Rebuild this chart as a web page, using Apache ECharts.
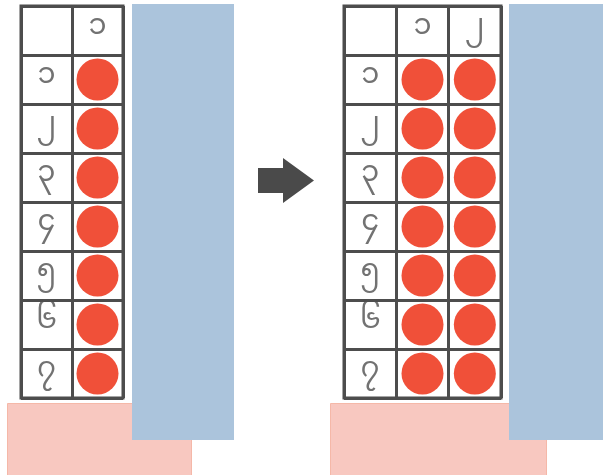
<!DOCTYPE html>
<html><head><meta charset="utf-8">
<script src="https://cdn.jsdelivr.net/npm/echarts@6/dist/echarts.min.js"></script>
<style>html,body{margin:0;padding:0;background:#fff}#c{width:603px;height:475px}</style>
</head><body><div id="c"></div>
<script>
// Row labels (Myanmar digits 1..7)
const rowLabels = ['၁','၂','၃','၄','၅','၆','၇'];
// Column labels before / after
const beforeCols = ['၁'];
const afterCols = ['၁','၂'];
// Filled cells (1 = red dot) per row, per column
const beforeFilled = [[1],[1],[1],[1],[1],[1],[1]];
const afterFilled = [[1,1],[1,1],[1,1],[1,1],[1,1],[1,1],[1,1]];

const LINE = '#4d4d4d';
const TEXT = '#4f4f4f';
const DOT = '#f05039';
const FONT = '"Noto Sans Myanmar", "Noto Sans", "DejaVu Sans", sans-serif';

function buildTable(idx, cols, filled, box) {
  const xCats = ['_h'].concat(cols.map((c, i) => 'c' + i));
  const yCats = ['_h'].concat(rowLabels.map((r, i) => 'r' + i));
  const grid = {left: box.left, top: box.top, width: box.width, height: box.height,
    show: true, backgroundColor: '#fff', borderColor: LINE, borderWidth: 3};
  const axLine = {show: false};
  const xAxis = {type: 'category', gridIndex: idx, data: xCats, boundaryGap: true,
    axisLine: axLine, axisTick: {show: false}, axisLabel: {show: false},
    splitLine: {show: true, lineStyle: {color: LINE, width: 3}}};
  const yAxis = {type: 'category', gridIndex: idx, data: yCats, inverse: true, boundaryGap: true,
    axisLine: axLine, axisTick: {show: false}, axisLabel: {show: false},
    splitLine: {show: true, lineStyle: {color: LINE, width: 3}}};
  const dots = [];
  filled.forEach((row, ri) => row.forEach((v, ci) => { if (v) dots.push(['c' + ci, 'r' + ri]); }));
  const labels = [];
  cols.forEach((c, ci) => labels.push({value: ['c' + ci, '_h'], name: c}));
  rowLabels.forEach((r, ri) => labels.push({value: ['_h', 'r' + ri], name: r}));
  return {grid, xAxis, yAxis, series: [
    {type: 'scatter', xAxisIndex: idx, yAxisIndex: idx, data: dots, symbolSize: 42,
      itemStyle: {color: DOT, opacity: 1}, silent: true, z: 3},
    {type: 'scatter', xAxisIndex: idx, yAxisIndex: idx, data: labels, symbolSize: 2,
      itemStyle: {color: 'rgba(0,0,0,0)'}, silent: true, z: 4,
      label: {show: true, position: 'inside', formatter: p => p.name, color: TEXT,
        fontSize: 29, fontFamily: FONT}}
  ]};
}

const t1 = buildTable(0, beforeCols, beforeFilled, {left: 21, top: 6, width: 102, height: 392});
const t2 = buildTable(1, afterCols, afterFilled, {left: 344, top: 6, width: 157, height: 392});

const chart = echarts.init(document.getElementById('c'), null, {renderer: 'canvas'});
chart.setOption({
  animation: false,
  backgroundColor: '#fff',
  grid: [t1.grid, t2.grid],
  xAxis: [t1.xAxis, t2.xAxis],
  yAxis: [t1.yAxis, t2.yAxis],
  series: t1.series.concat(t2.series),
  graphic: [
    {type: 'rect', shape: {x: 7.5, y: 403.5, width: 184, height: 80}, z: 1,
      style: {fill: '#f8c8c0', stroke: '#f5b8a8', lineWidth: 1}},
    {type: 'rect', shape: {x: 132, y: 4, width: 102, height: 436}, z: 2,
      style: {fill: '#abc4dc'}},
    {type: 'rect', shape: {x: 330.5, y: 403.5, width: 216, height: 80}, z: 1,
      style: {fill: '#f8c8c0', stroke: '#f5b8a8', lineWidth: 1}},
    {type: 'rect', shape: {x: 509, y: 4, width: 100, height: 436}, z: 2,
      style: {fill: '#abc4dc'}},
    {type: 'polygon', z: 2, shape: {points: [[258, 168], [283, 168], [283, 158], [314, 180.5], [283, 203], [283, 193], [258, 193]]},
      style: {fill: '#4a4a4a'}}
  ]
});
</script></body></html>
